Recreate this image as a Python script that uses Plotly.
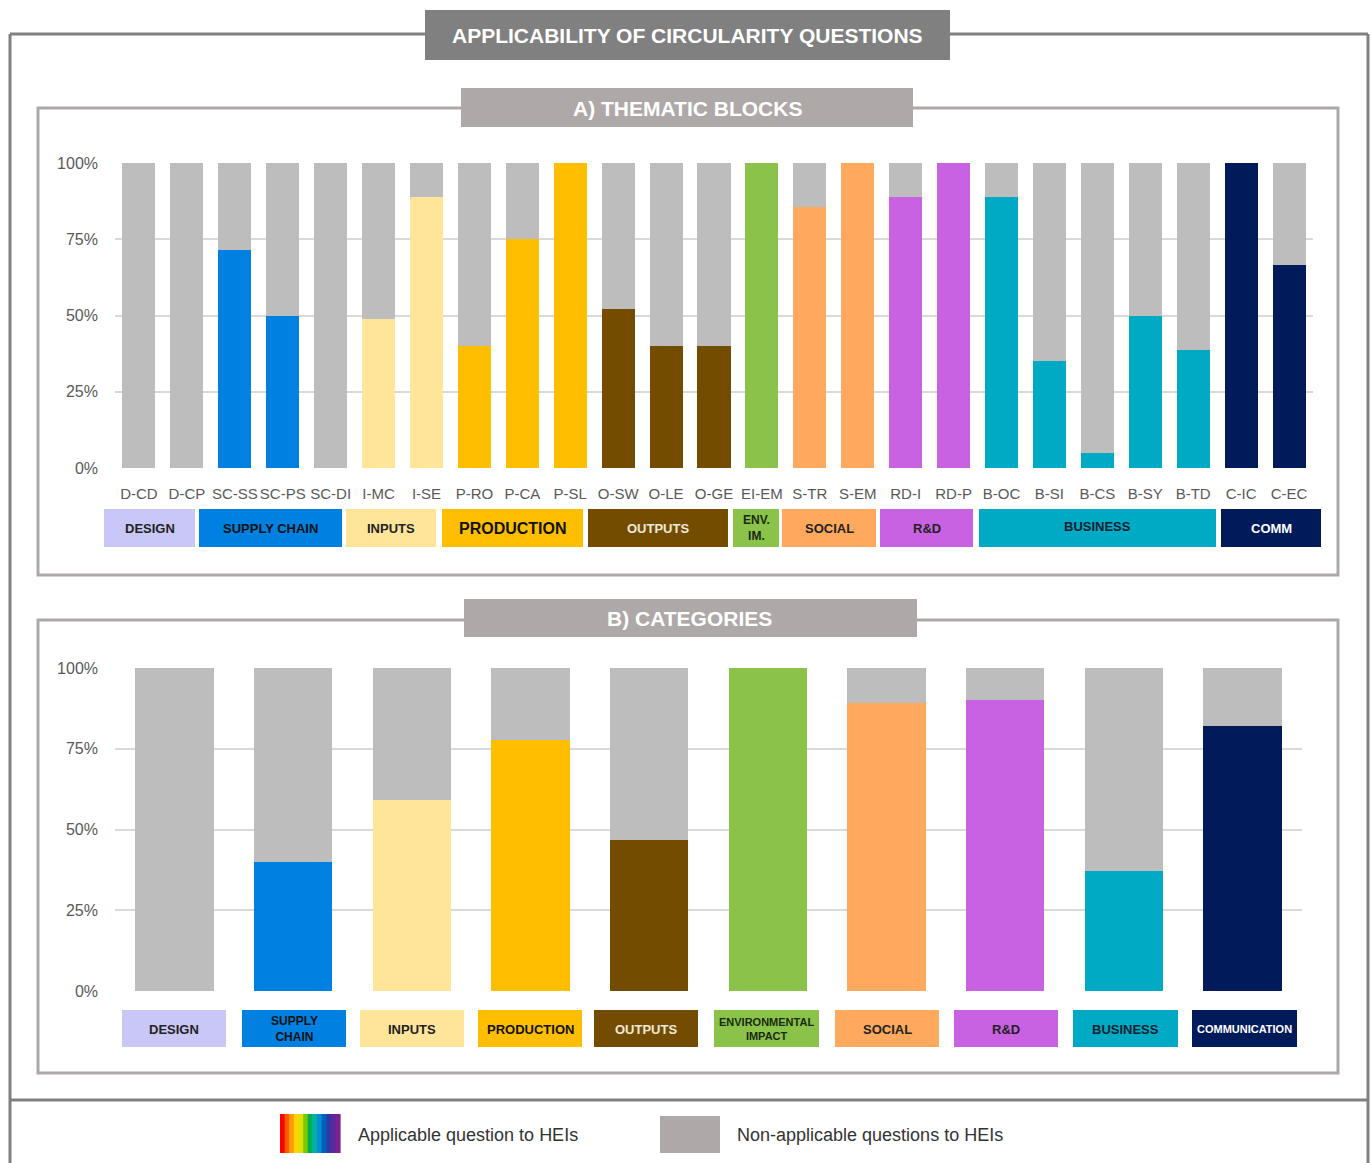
import plotly.graph_objects as go

# ---------------- DATA ----------------
block_codes = ["D-CD", "D-CP", "SC-SS", "SC-PS", "SC-DI", "I-MC", "I-SE", "P-RO", "P-CA", "P-SL",
               "O-SW", "O-LE", "O-GE", "EI-EM", "S-TR", "S-EM", "RD-I", "RD-P", "B-OC", "B-SI",
               "B-CS", "B-SY", "B-TD", "C-IC", "C-EC"]
block_group = ["design", "design", "supply", "supply", "supply", "inputs", "inputs", "production",
               "production", "production", "outputs", "outputs", "outputs", "env", "social", "social",
               "rd", "rd", "business", "business", "business", "business", "business", "comm", "comm"]
block_applicable = [0, 0, 71.4, 50, 0, 49, 88.9, 40, 75, 100,
                    52, 40, 40, 100, 85.7, 100, 88.9, 100, 88.9, 35,
                    5, 50, 38.7, 100, 66.7]

cat_keys = ["design", "supply", "inputs", "production", "outputs", "env", "social", "rd", "business", "comm"]
cat_labels = ["DESIGN", "SUPPLY<br>CHAIN", "INPUTS", "PRODUCTION", "OUTPUTS", "ENVIRONMENTAL<br>IMPACT",
              "SOCIAL", "R&D", "BUSINESS", "COMMUNICATION"]
cat_applicable = [0, 40, 59.1, 77.7, 46.7, 100, 89.2, 90.1, 37.2, 82.0]

block_box_labels = ["DESIGN", "SUPPLY CHAIN", "INPUTS", "PRODUCTION", "OUTPUTS", "ENV.<br>IM.",
                    "SOCIAL", "R&D", "BUSINESS", "COMM"]

y_ticks = [0, 25, 50, 75, 100]
y_tick_labels = ["0%", "25%", "50%", "75%", "100%"]

# ---------------- STYLE ----------------
group_colors = {"design": "#c9c7f7", "supply": "#0080e0", "inputs": "#ffe599", "production": "#ffbf00",
                "outputs": "#734c00", "env": "#8bc34a", "social": "#ffa95e", "rd": "#c961e3",
                "business": "#00aac4", "comm": "#001a5a"}
text_colors = {"design": "#222222", "supply": "#111111", "inputs": "#222222", "production": "#111111",
               "outputs": "#f0e8d8", "env": "#1a2a10", "social": "#222222", "rd": "#222222",
               "business": "#102030", "comm": "#ffffff"}
GRAY_BAR = "#bdbdbd"
FONT = "Liberation Sans, Arial, sans-serif"

W, H = 1371, 1163


def px(x):
    return x / W


def py(y):
    return 1 - y / H


fig = go.Figure()

# top chart
fig.add_trace(go.Bar(x=block_codes, y=block_applicable, marker_color=[group_colors[g] for g in block_group],
                     marker_line_width=0, xaxis="x", yaxis="y", showlegend=False,
                     hovertemplate="%{x}: %{y}%<extra>Applicable</extra>"))
fig.add_trace(go.Bar(x=block_codes, y=[100 - v for v in block_applicable], marker_color=GRAY_BAR,
                     marker_line_width=0, xaxis="x", yaxis="y", showlegend=False,
                     hovertemplate="%{x}: %{y}%<extra>Non-applicable</extra>"))
# bottom chart
fig.add_trace(go.Bar(x=cat_keys, y=cat_applicable, marker_color=[group_colors[k] for k in cat_keys],
                     marker_line_width=0, xaxis="x2", yaxis="y2", showlegend=False, width=0.66,
                     hovertemplate="%{x}: %{y}%<extra>Applicable</extra>"))
fig.add_trace(go.Bar(x=cat_keys, y=[100 - v for v in cat_applicable], marker_color=GRAY_BAR,
                     marker_line_width=0, xaxis="x2", yaxis="y2", showlegend=False, width=0.66,
                     hovertemplate="%{x}: %{y}%<extra>Non-applicable</extra>"))

yaxis_common = dict(range=[0, 100], tickvals=y_ticks, ticktext=y_tick_labels, showgrid=True,
                    gridcolor="#d9d9d9", gridwidth=2, zeroline=False, showline=False,
                    tickfont=dict(family=FONT, size=16, color="#595959"), ticks="",
                    ticklabelstandoff=16, fixedrange=True, automargin=False)

fig.update_layout(
    width=W, height=H, margin=dict(l=0, r=0, t=0, b=0, pad=0, autoexpand=False),
    paper_bgcolor="white", plot_bgcolor="white",
    barmode="stack", bargap=0.31, showlegend=False,
    font=dict(family=FONT),
    xaxis=dict(domain=[px(115), px(1313)], anchor="y", range=[-0.5, 24.5], showgrid=False, showline=False,
               ticks="", tickangle=0, tickfont=dict(family=FONT, size=15, color="#595959"),
               ticklabelstandoff=15, fixedrange=True, automargin=False),
    yaxis=dict(domain=[py(468), py(163)], anchor="x", **yaxis_common),
    xaxis2=dict(domain=[px(115), px(1302)], anchor="y2", range=[-0.5, 9.5], showgrid=False, showline=False,
                showticklabels=False, ticks="", fixedrange=True, automargin=False),
    yaxis2=dict(domain=[py(991), py(668)], anchor="x2", **yaxis_common),
)

shapes = []
annotations = []


def rect(x0, y0, x1, y1, fill=None, line=None, lw=0):
    shapes.append(dict(type="rect", xref="paper", yref="paper", x0=px(x0), x1=px(x1), y0=py(y1), y1=py(y0),
                       fillcolor=fill if fill else "rgba(0,0,0,0)",
                       line=dict(color=line if line else "rgba(0,0,0,0)", width=lw), layer="above"))


def hline(x0, x1, y, color, w):
    shapes.append(dict(type="line", xref="paper", yref="paper", x0=px(x0), x1=px(x1), y0=py(y), y1=py(y),
                       line=dict(color=color, width=w), layer="above"))


def vline(x, y0, y1, color, w):
    shapes.append(dict(type="line", xref="paper", yref="paper", x0=px(x), x1=px(x), y0=py(y0), y1=py(y1),
                       line=dict(color=color, width=w), layer="above"))


def text(x, y, t, size, color, bold=False, xanchor="center"):
    annotations.append(dict(xref="paper", yref="paper", x=px(x), y=py(y), text=(f"<b>{t}</b>" if bold else t),
                            showarrow=False, xanchor=xanchor, yanchor="middle",
                            font=dict(family=FONT, size=size, color=color)))


# outer frame
OUT = "#808080"
hline(10, 1368, 34, OUT, 3)
vline(10, 34, 1163, OUT, 3)
vline(1368, 34, 1163, OUT, 3)
hline(10, 1368, 1100, OUT, 3)

# panel frames
PF = "#ada7a7"
rect(38, 108, 1338, 575, line=PF, lw=3)
rect(38, 620, 1338, 1073, line=PF, lw=3)

# title boxes
rect(425, 10, 950, 60, fill="#808080")
text(687, 35, "APPLICABILITY OF CIRCULARITY QUESTIONS", 21, "white", bold=True)
rect(461, 88, 913, 127, fill="#aea8a8")
text(687, 108, "A) THEMATIC BLOCKS", 21, "white", bold=True)
rect(464, 599, 917, 637, fill="#aea8a8")
text(690, 618, "B) CATEGORIES", 21, "white", bold=True)

# top group boxes
top_box_x = [(104, 195), (199, 342), (346, 436), (442, 583), (588, 728), (733, 779), (782, 876),
             (880, 973), (979, 1216), (1221, 1321)]
for (x0, x1), key, lab in zip(top_box_x, cat_keys, block_box_labels):
    rect(x0, 509, x1, 547, fill=group_colors[key])
    size = 16 if key == "production" else 13
    if key == "env":
        size = 12
    ty = 528
    if key == "business":
        ty = 526
    text((x0 + x1) / 2, ty, lab, size, text_colors[key], bold=True)

# bottom category boxes
bot_box_x = [(122, 226), (242, 346), (360, 464), (478, 582), (594, 698), (714, 819), (835, 939),
             (954, 1058), (1073, 1178), (1192, 1297)]
for (x0, x1), key, lab in zip(bot_box_x, cat_keys, cat_labels):
    rect(x0, 1010, x1, 1047, fill=group_colors[key])
    size = 13
    if key in ("env", "comm"):
        size = 11
    if key == "supply":
        size = 12
    text((x0 + x1) / 2, 1029, lab, size, text_colors[key], bold=True)

# legend
rainbow = ["#ff0000", "#ff5a00", "#ff9a00", "#ffd500", "#e0e000", "#7cc800", "#00b050", "#00b0a0",
           "#0090d0", "#0060c0", "#2a3aa0", "#5a2a9a", "#7a2090"]
sw = 60 / len(rainbow)
for i, c in enumerate(rainbow):
    rect(280 + i * sw, 1114, 280 + (i + 1) * sw + 0.6, 1153, fill=c)
text(356, 1135, "Applicable question to HEIs", 18, "#333333", xanchor="left")
rect(660, 1116, 720, 1153, fill="#aea8a8")
text(735, 1135, "Non-applicable questions to HEIs", 18, "#333333", xanchor="left")

fig.update_layout(shapes=shapes, annotations=annotations)
fig.write_html(
    "out.html",
    config={"displayModeBar": False},
    post_script=(
        "document.documentElement.style.margin='0';document.documentElement.style.padding='0';"
        "document.documentElement.style.overflow='hidden';"
        "document.body.style.margin='0';document.body.style.padding='0';document.body.style.overflow='hidden';"
        "var gd=document.getElementById('{plot_id}');"
        "gd.style.position='absolute';gd.style.top='0px';gd.style.left='0px';"
    ),
)
